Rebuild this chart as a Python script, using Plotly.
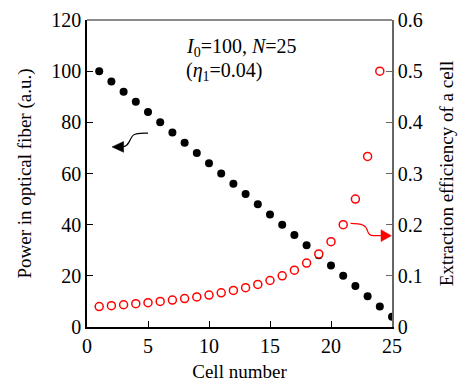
import plotly.graph_objects as go

cells = list(range(1, 26))
power = [100, 96, 92, 88, 84, 80, 76, 72, 68, 64, 60, 56, 52, 48, 44, 40, 36, 32, 28, 24, 20, 16, 12, 8, 4]
eff_cells = list(range(1, 25))
efficiency = [0.0400, 0.0417, 0.0435, 0.0455, 0.0476, 0.0500, 0.0526, 0.0556, 0.0588, 0.0625,
              0.0667, 0.0714, 0.0769, 0.0833, 0.0909, 0.1000, 0.1111, 0.1250, 0.1429, 0.1667,
              0.2000, 0.2500, 0.3333, 0.5000]
x_ticks = [0, 5, 10, 15, 20, 25]
y_ticks = [0, 20, 40, 60, 80, 100, 120]
y2_ticks = [0, 0.1, 0.2, 0.3, 0.4, 0.5, 0.6]
y2_labels = ["0", "0.1", "0.2", "0.3", "0.4", "0.5", "0.6"]

FONT = "Liberation Serif"

fig = go.Figure()
fig.add_trace(go.Scatter(x=cells, y=power, mode="markers",
                         marker=dict(color="black", size=8), yaxis="y", showlegend=False))
fig.add_trace(go.Scatter(x=eff_cells, y=efficiency, mode="markers",
                         marker=dict(color="white", size=8, line=dict(color="red", width=1.5)),
                         yaxis="y2", showlegend=False))

# black arrow (pointing left)
fig.add_shape(type="path", xref="x", yref="y",
              path="M 2.9 70.4 C 3.5 70.4, 3.5 74, 3.8 75 S 4.4 75.8, 5.0 75.8",
              line=dict(color="black", width=1.2))
fig.add_shape(type="path", xref="x", yref="y",
              path="M 2.05 70.4 L 3.0 72.5 L 3.0 68.3 Z",
              fillcolor="black", line=dict(color="black", width=0.5))
# red arrow (pointing right)
fig.add_shape(type="path", xref="x", yref="y",
              path="M 21.6 40.5 C 22.6 40.5, 22.9 39.5, 23.0 37.5 S 23.3 35.7, 24.1 35.7",
              line=dict(color="red", width=1.2))
fig.add_shape(type="path", xref="x", yref="y",
              path="M 24.95 35.7 L 24.1 38.0 L 24.1 33.4 Z",
              fillcolor="red", line=dict(color="red", width=0.5))
# top frame line
fig.add_shape(type="line", xref="paper", yref="paper", x0=0, x1=1, y0=1, y1=1,
              line=dict(color="#666666", width=1.5))

fig.add_annotation(x=0.318, y=0.912, xref="paper", yref="paper", xanchor="left", yanchor="middle",
                   text="<i>I</i><sub>0</sub>=100, <i>N</i>=25", showarrow=False,
                   font=dict(family=FONT, size=20, color="black"))
fig.add_annotation(x=0.318, y=0.833, xref="paper", yref="paper", xanchor="left", yanchor="middle",
                   text="(<i>η</i><sub>1</sub>=0.04)", showarrow=False,
                   font=dict(family=FONT, size=20, color="black"))

fig.update_layout(
    width=464, height=382,
    margin=dict(l=87, r=72, t=20, b=55),
    paper_bgcolor="white", plot_bgcolor="white",
    font=dict(family=FONT, size=20, color="black"),
    xaxis=dict(range=[0, 25], tickvals=x_ticks, ticks="inside", ticklen=6, tickcolor="black",
               showline=True, linecolor="black", linewidth=1.5, showgrid=False, zeroline=False,
               automargin=False, tickfont=dict(family=FONT, size=20),
               title=dict(text="Cell number", font=dict(family=FONT, size=19), standoff=10)),
    yaxis=dict(range=[0, 120], tickvals=y_ticks, ticks="inside", ticklen=6, tickcolor="black",
               showline=True, linecolor="black", linewidth=1.5, showgrid=False, zeroline=False,
               automargin=False, tickfont=dict(family=FONT, size=20),
               title=dict(text="Power in optical fiber (a.u.)", font=dict(family=FONT, size=19), standoff=15)),
    yaxis2=dict(range=[0, 0.6], tickvals=y2_ticks, ticktext=y2_labels, overlaying="y", side="right",
                ticks="inside", ticklen=6, tickcolor="#666666",
                showline=True, linecolor="#666666", linewidth=1.5, showgrid=False, zeroline=False,
                automargin=False, tickfont=dict(family=FONT, size=20),
                title=dict(text="Extraction efficiency of a cell", font=dict(family=FONT, size=19), standoff=18)),
)

fig.write_html("out.html")
